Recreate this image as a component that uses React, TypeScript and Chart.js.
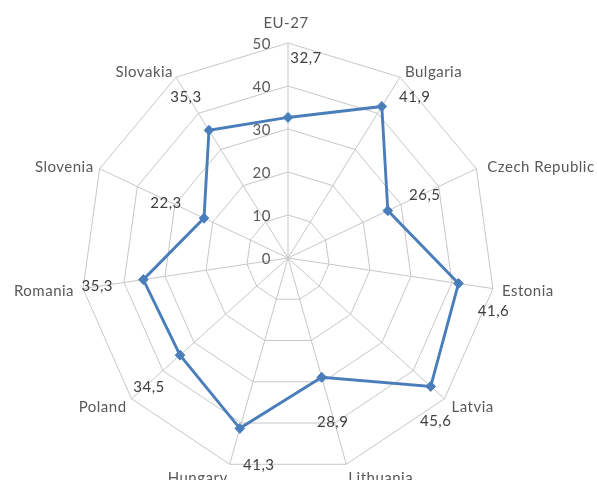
import { useEffect, useRef } from "react";
import { Chart, registerables } from "chart.js";

Chart.register(...registerables);

// Poverty / exclusion rates (%) by country
const categories = [
  "EU-27",
  "Bulgaria",
  "Czech Republic",
  "Estonia",
  "Latvia",
  "Lithuania",
  "Hungary",
  "Poland",
  "Romania",
  "Slovenia",
  "Slovakia",
];
const values = [32.7, 41.9, 26.5, 41.6, 45.6, 28.9, 41.3, 34.5, 35.3, 22.3, 35.3];
const tickValues = [0, 10, 20, 30, 40, 50];

// Geometry of the radar (slightly narrower horizontally than vertically)
const CENTER_X = 288;
const CENTER_Y = 258;
const RADIUS = 215;
const X_SQUEEZE = 0.963;

// Category name placement relative to the outer vertex: [dx, dy, align]
const nameOffsets: [number, number, CanvasTextAlign][] = [
  [-2, -20, "center"],
  [5, -5, "left"],
  [11, -2, "left"],
  [9, 3, "left"],
  [7, 8, "left"],
  [2, 14, "left"],
  [-2, 14, "right"],
  [-5, 8, "right"],
  [-9, 3, "right"],
  [-6, -2, "right"],
  [-3, -5, "right"],
];

// Value label placement relative to each data point: [dx, dy]
const valueOffsets: [number, number][] = [
  [18, -59],
  [33, -9],
  [37, -16],
  [35, 28],
  [5, 35],
  [11, 45],
  [19, 37],
  [-31, 32],
  [-46, 7],
  [-38, -15],
  [-23, -33],
];

const formatValue = (v: number) => v.toFixed(1).replace(".", ",");
const squeezeX = (x: number) => CENTER_X + (x - CENTER_X) * X_SQUEEZE;

const textPlugin = {
  id: "radarText",
  beforeDraw(chart: any) {
    const ctx: CanvasRenderingContext2D = chart.ctx;
    ctx.save();
    ctx.translate(CENTER_X, 0);
    ctx.scale(X_SQUEEZE, 1);
    ctx.translate(-CENTER_X, 0);
  },
  afterDraw(chart: any) {
    const scale = chart.scales.r;
    const ctx: any = chart.ctx;
    ctx.restore();
    ctx.save();
    ctx.textBaseline = "middle";
    ctx.font = "15px Lato, 'Open Sans', sans-serif";
    ctx.letterSpacing = "0.5px";
    ctx.fillStyle = "#595959";

    categories.forEach((name, i) => {
      const p = scale.getPointPosition(i, scale.drawingArea);
      const [dx, dy, align] = nameOffsets[i];
      ctx.textAlign = align;
      ctx.fillText(name, squeezeX(p.x) + dx, p.y + dy);
    });

    ctx.textAlign = "right";
    tickValues.forEach((t) => {
      const y = scale.yCenter - scale.getDistanceFromCenterForValue(t);
      ctx.fillText(String(t), CENTER_X - 17, y + 1);
    });

    ctx.textAlign = "center";
    ctx.fillStyle = "#404040";
    values.forEach((v, i) => {
      const p = scale.getPointPositionForValue(i, v);
      const [dx, dy] = valueOffsets[i];
      ctx.fillText(formatValue(v), squeezeX(p.x) + dx, p.y + dy);
    });
    ctx.restore();
  },
};

export default function App() {
  const canvasRef = useRef<HTMLCanvasElement>(null);

  useEffect(() => {
    const canvas = canvasRef.current;
    if (!canvas) return;
    const chart = new Chart(canvas, {
      type: "radar",
      data: {
        labels: categories,
        datasets: [
          {
            data: values,
            borderColor: "#4a7ebb",
            backgroundColor: "rgba(0,0,0,0)",
            borderWidth: 3,
            fill: false,
            pointStyle: "rectRot",
            pointRadius: 5,
            pointBackgroundColor: "#4a7ebb",
            pointBorderColor: "#4a7ebb",
            pointBorderWidth: 1,
          },
        ],
      },
      options: {
        responsive: false,
        animation: false,
        plugins: {
          legend: { display: false },
          tooltip: { enabled: false },
        },
        scales: {
          r: {
            min: 0,
            max: 50,
            ticks: { display: false, stepSize: 10 },
            pointLabels: { display: false },
            grid: { color: "#c6c6c6", lineWidth: 1 },
            angleLines: { color: "#c6c6c6", lineWidth: 1 },
            afterFit: (scale: any) => {
              scale.xCenter = CENTER_X;
              scale.yCenter = CENTER_Y;
              scale.drawingArea = RADIUS;
            },
          },
        },
      },
      plugins: [textPlugin],
    });
    return () => chart.destroy();
  }, []);

  return (
    <div style={{ position: "fixed", left: 0, top: 0, width: 597, height: 480, background: "#fff" }}>
      <canvas ref={canvasRef} width={597} height={480} style={{ width: 597, height: 480 }} />
    </div>
  );
}
